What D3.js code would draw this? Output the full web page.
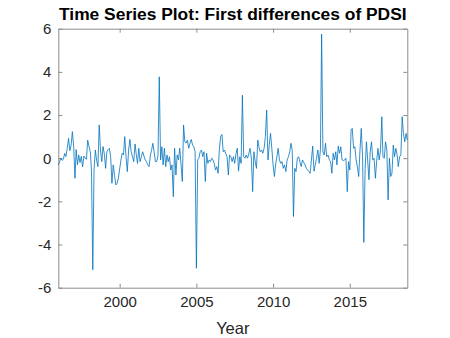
<!DOCTYPE html>
<html>
<head>
<meta charset="utf-8">
<script src="https://cdn.jsdelivr.net/npm/d3@7"></script>
<style>
  body { margin: 0; background: #fff; }
  svg { display: block; font-family: "Liberation Sans", Arial, sans-serif; }
</style>
</head>
<body>
<div id="chart"></div>
<script>

// first differences of PDSI, monthly from Jan 1996
const dpdsi1996 = [-0.31, -0.16, 0.0, -0.1, -0.05, 0.22, 0.08, 0.46, 0.92, 0.35, 0.6, 1.23]
const dpdsi1997 = [0.54, -0.93, 0.4, -0.3, 0.15, -0.2, 0.08, -0.4, 0.1, 0.0, -0.05, 0.84]
const dpdsi1998 = [0.54, 0.3, -0.55, -5.17, -0.55, 0.38, -0.1, -0.39, 1.54, 0.38, -0.16, 0.54]
const dpdsi1999 = [0.2, -0.47, 0.3, 0.4, 0.46, 0.07, -1.16, -0.31, -0.8, -1.24, -1.16, -0.93]
const dpdsi2000 = [-0.5, -0.08, 0.23, 0.15, 1.0, 0.07, -0.62, 0.38, 0.87, 0.3, 0.07, -0.16]
const dpdsi2001 = [0.66, 0.15, -0.24, 0.46, -0.16, 0.07, 0.3, 0.1, -0.08, -0.16, -0.31, -0.39]
const dpdsi2002 = [0.15, 0.4, 0.69, 0.3, -0.16, -0.16, 0.1, 3.77, -0.08, 0.53, -0.31, 0.46]
const dpdsi2003 = [-0.39, 0.15, -0.16, 0.07, -0.55, -0.31, -1.78, 0.46, -0.78, 0.15, -0.08, 0.46]
const dpdsi2004 = [-0.3, -1.08, 1.54, 0.76, 0.7, 0.84, 0.46, 0.69, 0.87, 0.61, 0.53, 0.3]
const dpdsi2005 = [-5.1, -0.08, 0.0, 0.3, 0.38, 0.07, 0.3, -1.08, 0.23, -0.24, -0.08, -0.16]
const dpdsi2006 = [0.0, -0.08, -0.24, -0.55, -0.39, -0.7, 0.38, 1.0, 1.1, 0.3, 0.38, 0.2]
const dpdsi2007 = [0.07, -0.78, 0.15, 0.07, -0.16, 0.07, -0.24, 0.2, 0.46, -0.6, 0.07, -0.24]
const dpdsi2008 = [2.92, 0.07, 0.0, 0.15, 0.0, 0.2, 0.46, 0.0, -1.55, 0.3, -0.16, -0.47]
const dpdsi2009 = [0.84, 0.5, 0.3, 0.38, 0.23, 0.46, 1.0, 2.23, -0.08, 0.6, 1.15, 0.46]
const dpdsi2010 = [-0.31, -0.85, -0.31, 0.07, 0.46, -0.08, -0.24, -0.16, -0.47, -0.31, -0.62, -0.08]
const dpdsi2011 = [0.07, 0.3, 0.69, 0.38, -2.7, -0.47, -0.62, 0.0, 0.07, -0.16, -0.39, -0.08]
const dpdsi2012 = [-0.2, -0.31, -0.47, -0.55, -0.62, -0.7, -0.08, 0.56, -0.6, -0.31, 0.0, 0.38]
const dpdsi2013 = [-0.24, 0.4, 5.75, 0.3, 0.15, 0.69, 0.07, 0.15, -0.08, -0.16, -0.7, 0.23]
const dpdsi2014 = [-0.08, 0.3, -0.31, 0.56, 0.23, 0.53, -0.08, -0.11, -0.08, 0.0, -1.55, -0.16]
const dpdsi2015 = [-0.55, 1.31, 1.38, 0.46, 0.53, -0.08, -0.4, -0.85, 0.38, 1.38, 0.07, -3.9]
const dpdsi2016 = [-0.47, 0.76, -0.08, -1.0, 0.3, 0.76, -0.08, 0.0, -0.93, -0.16, 0.46, -0.08]
const dpdsi2017 = [0.38, 1.92, 0.07, 0.0, 0.76, 0.38, -1.93, 0.0, -0.85, -0.7, 0.61, 0.07]
const dpdsi2018 = [0.46, 0.15, -0.39, 0.07, 0.15, 1.92, 1.15, 0.76, 1.15, 0.84]

const yearTicks = [2000, 2005, 2010, 2015]
const valueTicks = [-6, -4, -2, 0, 2, 4, 6]

const values = [].concat(dpdsi1996, dpdsi1997, dpdsi1998, dpdsi1999, dpdsi2000,
  dpdsi2001, dpdsi2002, dpdsi2003, dpdsi2004, dpdsi2005, dpdsi2006, dpdsi2007,
  dpdsi2008, dpdsi2009, dpdsi2010, dpdsi2011, dpdsi2012, dpdsi2013, dpdsi2014,
  dpdsi2015, dpdsi2016, dpdsi2017, dpdsi2018)

const start = new Date(1996, 0, 1)
const data = values.map((v, i) => ({ date: d3.timeMonth.offset(start, i), value: v }))

const width = 450
const height = 338
const margin = { top: 28.7, right: 42.7, bottom: 50.3, left: 58.3 }
const axisColor = "#262626"
const boxColor = "#8c8c8c"

const svg = d3.select("#chart").append("svg")
    .attr("width", width)
    .attr("height", height)

const x = d3.scaleTime()
    .domain(d3.extent(data, d => d.date))
    .range([margin.left, width - margin.right])

const y = d3.scaleLinear()
    .domain([-6, 6])
    .range([height - margin.bottom, margin.top])

const tickLen = 4

// bottom axis with ticks pointing inwards
svg.append("g")
    .attr("transform", `translate(0,${height - margin.bottom})`)
    .call(d3.axisBottom(x)
      .tickValues(yearTicks.map(yr => new Date(yr, 0, 1)))
      .tickFormat(d3.timeFormat("%Y"))
      .tickSizeInner(-tickLen)
      .tickSizeOuter(0)
      .tickPadding(9))
    .call(g => g.select(".domain").attr("stroke", boxColor))
    .call(g => g.selectAll(".tick line").attr("stroke", boxColor))
    .call(g => g.selectAll(".tick text")
      .attr("fill", axisColor)
      .attr("font-size", 15)
      .attr("font-family", "Liberation Sans, Arial, sans-serif"))

// top ticks
svg.append("g")
    .attr("transform", `translate(0,${margin.top})`)
    .call(d3.axisTop(x)
      .tickValues(yearTicks.map(yr => new Date(yr, 0, 1)))
      .tickFormat("")
      .tickSizeInner(-tickLen)
      .tickSizeOuter(0))
    .call(g => g.select(".domain").attr("stroke", boxColor))
    .call(g => g.selectAll(".tick line").attr("stroke", boxColor))

// left axis, plain hyphen for negatives like matlab
svg.append("g")
    .attr("transform", `translate(${margin.left},0)`)
    .call(d3.axisLeft(y)
      .tickValues(valueTicks)
      .tickFormat(d => String(d))
      .tickSizeInner(-tickLen)
      .tickSizeOuter(0)
      .tickPadding(7))
    .call(g => g.select(".domain").attr("stroke", boxColor))
    .call(g => g.selectAll(".tick line").attr("stroke", boxColor))
    .call(g => g.selectAll(".tick text")
      .attr("fill", axisColor)
      .attr("font-size", 15)
      .attr("font-family", "Liberation Sans, Arial, sans-serif"))

// right ticks
svg.append("g")
    .attr("transform", `translate(${width - margin.right},0)`)
    .call(d3.axisRight(y)
      .tickValues(valueTicks)
      .tickFormat("")
      .tickSizeInner(-tickLen)
      .tickSizeOuter(0))
    .call(g => g.select(".domain").attr("stroke", boxColor))
    .call(g => g.selectAll(".tick line").attr("stroke", boxColor))

const line = d3.line()
    .x(d => x(d.date))
    .y(d => y(d.value))

svg.append("path")
    .datum(data)
    .attr("fill", "none")
    .attr("stroke", "#0072BD")
    .attr("stroke-width", 0.8)
    .attr("stroke-linejoin", "round")
    .attr("d", line)

svg.append("text")
    .attr("x", (margin.left + width - margin.right) / 2)
    .attr("y", 20)
    .attr("text-anchor", "middle")
    .attr("font-size", 17.4)
    .attr("font-weight", "bold")
    .attr("fill", "#000")
    .text("Time Series Plot: First differences of PDSI")

svg.append("text")
    .attr("x", (margin.left + width - margin.right) / 2)
    .attr("y", 334)
    .attr("text-anchor", "middle")
    .attr("font-size", 16.5)
    .attr("fill", axisColor)
    .text("Year")

</script>
</body>
</html>
